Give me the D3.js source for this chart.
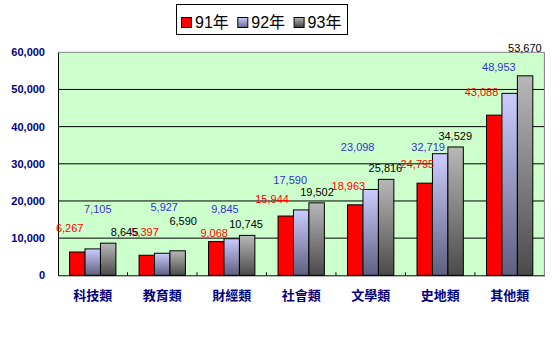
<!DOCTYPE html>
<html><head><meta charset="utf-8">
<script src="https://cdn.jsdelivr.net/npm/d3@7"></script>
<style>
html,body{margin:0;padding:0;background:#fff;}
svg{display:block;}
</style></head>
<body>
<svg id="chart" width="555" height="351"></svg>
<script>
// ---- data ----
const categories = ["科技類","教育類","財經類","社會類","文學類","史地類","其他類"];
const seriesNames = ["91年","92年","93年"];
const values91 = [6267, 5397, 9068, 15944, 18963, 24795, 43088];
const values92 = [7105, 5927, 9845, 17590, 23098, 32719, 48953];
const values93 = [8645, 6590, 10745, 19502, 25816, 34529, 53670];
const yTicks = [0, 10000, 20000, 30000, 40000, 50000, 60000];

// label nudges (px) relative to default outside-end label position
const nudge91 = [[-7.6,-13.3],[-1.7,-11.9],[-2.1,2.7],[-13.7,-6],[-6.9,-7.8],[-7.3,-8.1],[-12.7,-11.7]];
const nudge92 = [[5,-28.6],[2,-35.6],[-6.8,-18.7],[-11,-18.9],[-13,-31.1],[-12,4.7],[-10.8,-15.5]];
const nudge93 = [[16.4,0],[5.5,-18.8],[-1.1,0],[0.4,0],[-0.7,0],[-0.4,0],[-0.2,-17.3]];

const allValues = [values91, values92, values93];
const nudges = [nudge91, nudge92, nudge93];

// ---- layout ----
const svg = d3.select("#chart");
const L = 58, R = 544.4, T = 52.3, B = 275.3;

const x = d3.scaleBand().domain(categories).range([L, R]).padding(0);
const xs = d3.scaleBand().domain(seriesNames).range([0, x.bandwidth()]).paddingInner(0).paddingOuter(0.75);
const y = d3.scaleLinear().domain([0, 60000]).range([B, T]);

const defs = svg.append("defs");
const g2 = defs.append("linearGradient").attr("id","gBlue").attr("x1",0).attr("y1",0).attr("x2",0).attr("y2",1);
g2.append("stop").attr("offset","0%").attr("stop-color","#CCCCFF");
g2.append("stop").attr("offset","100%").attr("stop-color","#5F5F80");
const g3 = defs.append("linearGradient").attr("id","gGray").attr("x1",0).attr("y1",0).attr("x2",0).attr("y2",1);
g3.append("stop").attr("offset","0%").attr("stop-color","#B8B8B8");
g3.append("stop").attr("offset","100%").attr("stop-color","#4A4A4A");
const fills = ["#FF0000","url(#gBlue)","url(#gGray)"];
const labelColors = ["#FF0000","#3333CC","#000000"];

// plot background
svg.append("rect").attr("x",L).attr("y",T).attr("width",R-L).attr("height",B-T).attr("fill","#CCFFCC");

// gridlines
svg.append("g").selectAll("line").data(yTicks.filter(d=>d>0 && d<60000)).join("line")
  .attr("x1",L).attr("x2",R).attr("y1",d=>y(d)).attr("y2",d=>y(d))
  .attr("stroke","#000").attr("stroke-width",1);

// top/right border gray
svg.append("path").attr("d",`M${L},${y(60000)}H${R}V${B}`).attr("fill","none").attr("stroke","#808080").attr("stroke-width",1);

// bars
allValues.forEach((vals, si) => {
  svg.append("g").selectAll("rect").data(vals).join("rect")
    .attr("x",(d,i)=>x(categories[i]) + xs(seriesNames[si]))
    .attr("y",d=>y(d))
    .attr("width",xs.bandwidth())
    .attr("height",d=>B - y(d))
    .attr("fill",fills[si])
    .attr("stroke","#000").attr("stroke-width",1);
});

// axes lines
const yAxis = d3.axisLeft(y).tickValues(yTicks).tickSize(0).tickFormat(d3.format(","));
const yg = svg.append("g").attr("transform",`translate(${L},0)`).call(yAxis);
yg.select(".domain").attr("stroke","#000");
yg.selectAll("text").attr("x",-13).attr("fill","#000080").attr("font-family","Arial, 'Liberation Sans', sans-serif")
  .attr("font-size","11px").attr("font-weight","bold");

const xAxis = d3.axisBottom(x).tickSize(0).tickFormat(d=>d);
const xg = svg.append("g").attr("transform",`translate(0,${B})`).call(xAxis);
xg.select(".domain").attr("stroke","#000");
xg.selectAll("text").attr("y",15).attr("fill","#000080")
  .attr("font-family","'Noto Sans CJK TC', sans-serif").attr("font-size","13px").attr("font-weight","bold");
// category boundary ticks (pointing up)
svg.append("g").selectAll("line").data(categories.slice(1)).join("line")
  .attr("x1",d=>x(d)).attr("x2",d=>x(d)).attr("y1",B-3).attr("y2",B).attr("stroke","#000");

// data labels
allValues.forEach((vals, si) => {
  svg.append("g").selectAll("text").data(vals).join("text")
    .attr("x",(d,i)=>x(categories[i]) + xs(seriesNames[si]) + xs.bandwidth()/2 + nudges[si][i][0])
    .attr("y",(d,i)=>y(d) - 11 + nudges[si][i][1] + 4)
    .attr("text-anchor","middle")
    .attr("fill",labelColors[si])
    .attr("font-family","Arial, 'Liberation Sans', sans-serif")
    .attr("font-size","11px")
    .text(d=>d3.format(",")(d));
});

// legend
const lg = svg.append("g");
lg.append("rect").attr("x",176.5).attr("y",4.5).attr("width",171).attr("height",30)
  .attr("fill","#fff").attr("stroke","#000").attr("stroke-width",1);
const lfills = ["#FF0000","url(#gBlueL)","url(#gGrayL)"];
const gb = defs.append("linearGradient").attr("id","gBlueL").attr("x1",0).attr("y1",0).attr("x2",0).attr("y2",1);
gb.append("stop").attr("offset","0%").attr("stop-color","#CCCCFF");
gb.append("stop").attr("offset","100%").attr("stop-color","#6A6A90");
const gg = defs.append("linearGradient").attr("id","gGrayL").attr("x1",0).attr("y1",0).attr("x2",0).attr("y2",1);
gg.append("stop").attr("offset","0%").attr("stop-color","#B8B8B8");
gg.append("stop").attr("offset","100%").attr("stop-color","#404040");
const items = lg.selectAll("g.item").data(seriesNames).join("g").attr("class","item")
  .attr("transform",(d,i)=>`translate(${181 + i*56.3},0)`);
items.append("rect").attr("x",0.5).attr("y",17.5).attr("width",10).attr("height",10)
  .attr("fill",(d,i)=>lfills[i]).attr("stroke","#000");
items.append("text").attr("x",14).attr("y",28).attr("fill","#000")
  .attr("font-family","Arial, 'Liberation Sans', 'Noto Sans CJK TC', sans-serif").attr("font-size","16px")
  .text(d=>d);
</script>
</body></html>
